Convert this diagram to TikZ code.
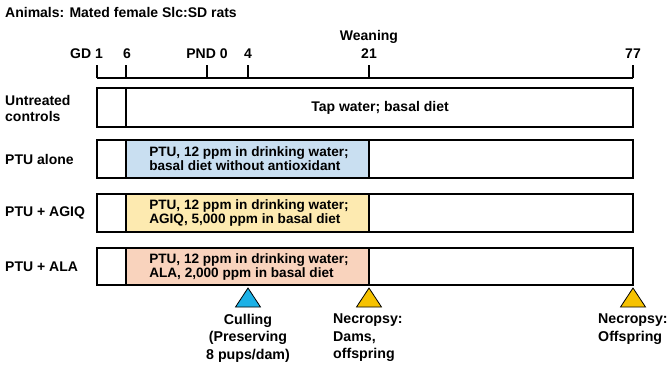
\documentclass[tikz,border=0pt]{standalone}
\usepackage{fontspec}
\setmainfont{Liberation Sans}
\usetikzlibrary{positioning}
\definecolor{ptublue}{HTML}{C9DFF1}
\definecolor{agiqyellow}{HTML}{FDEAB0}
\definecolor{alasalmon}{HTML}{F9D3BD}
\definecolor{markblue}{HTML}{1CB1E6}
\definecolor{markyellow}{HTML}{F6C200}
\newcommand{\txt}{\bfseries\fontsize{14}{14}\selectfont}
\newcommand{\marktri}[2]{\draw[line width=0.8pt, fill=#2] (#1) ++(0,10) -- ++(-12.5,19) -- ++(25,0) -- cycle;}

\tikzset{
  lab/.style = {font=\txt, inner sep=0pt},
  dose/.style = {font=\bfseries\fontsize{13.6}{14}\selectfont, inner sep=0pt, align=left},
  note/.style = {font=\bfseries\fontsize{14.2}{17.5}\selectfont, inner sep=0pt},
  rowbox/.style = {draw, line width=1.5pt},
}

\begin{document}
\begin{tikzpicture}[x=1pt, y=-1pt]
\useasboundingbox (0,0) rectangle (669,368);
\node[lab, anchor=west] (title) at (5,12) {Animals: Mated female Slc:SD rats};

% time axis
\foreach \n/\x in {gd1/97, gd6/126, pnd0/207, pnd4/248, wean/369, end/633}
  \coordinate (\n) at (\x,78);
\draw[line width=1.5pt] (gd1) -- (end);
\foreach \n in {gd1, gd6, pnd0, pnd4, wean, end}
  \draw[line width=1.5pt] (\n) -- ++(0,-13);
\node[lab, anchor=base east] (t1) at (103,58) {GD 1};
\node[lab, anchor=base] (t6) at (127,58) {6};
\node[lab, anchor=base] (t0) at (207,58) {PND 0};
\node[lab, anchor=base] (t4) at (248,58) {4};
\node[lab, anchor=base] (t21) at (369,58) {21};
\node[lab, anchor=base] (t77) at (633,58) {77};
\node[lab, anchor=base] (wlab) at (369,40) {Weaning};

% groups
\foreach \top/\bot/\col/\name in {88/127/white/ctrl, 140/178/ptublue/alone, 194/232/agiqyellow/agiq, 248/285/alasalmon/ala}{
  \fill[\col] (126,\top) rectangle (369,\bot);
  \draw[line width=1.5pt] (126,\top) -- (126,\bot);
  \draw[rowbox] (97,\top) rectangle (633,\bot);
  \coordinate (\name) at (0,{(\top+\bot)/2});
}
\draw[line width=1.5pt] (369,140) -- (369,178) (369,194) -- (369,232) (369,248) -- (369,285);

\node[lab, align=left, anchor=west] (gctrl) at (5,108) {Untreated\\[2pt]controls};
\node[lab, anchor=west] (galone) at (5,159) {PTU alone};
\node[lab, anchor=west] (gagiq) at (5,213) {PTU + AGIQ};
\node[lab, anchor=west] (gala) at (5,267) {PTU + ALA};

\node[lab] (tap) at (380,108) {Tap water; basal diet};
\node[dose] (dalone) at (249,159) {PTU, 12 ppm in drinking water;\\basal diet without antioxidant};
\node[dose] (dagiq) at (249,213) {PTU, 12 ppm in drinking water;\\AGIQ, 5,000 ppm in basal diet};
\node[dose] (dala) at (249,267) {PTU, 12 ppm in drinking water;\\ALA, 2,000 ppm in basal diet};

% events
\coordinate (cull) at (248,278);
\coordinate (necA) at (369,278);
\coordinate (necB) at (633,278);
\marktri{cull}{markblue}
\marktri{necA}{markyellow}
\marktri{necB}{markyellow}
\node[note, align=center, anchor=north] (lcull) at (248,314) {Culling\\(Preserving\\8 pups/dam)};
\node[note, align=left, anchor=north west] (lnecA) at (333,314) {Necropsy:\\Dams,\\offspring};
\node[note, align=left, anchor=north west] (lnecB) at (598,314) {Necropsy:\\Offspring};
\end{tikzpicture}
\end{document}
